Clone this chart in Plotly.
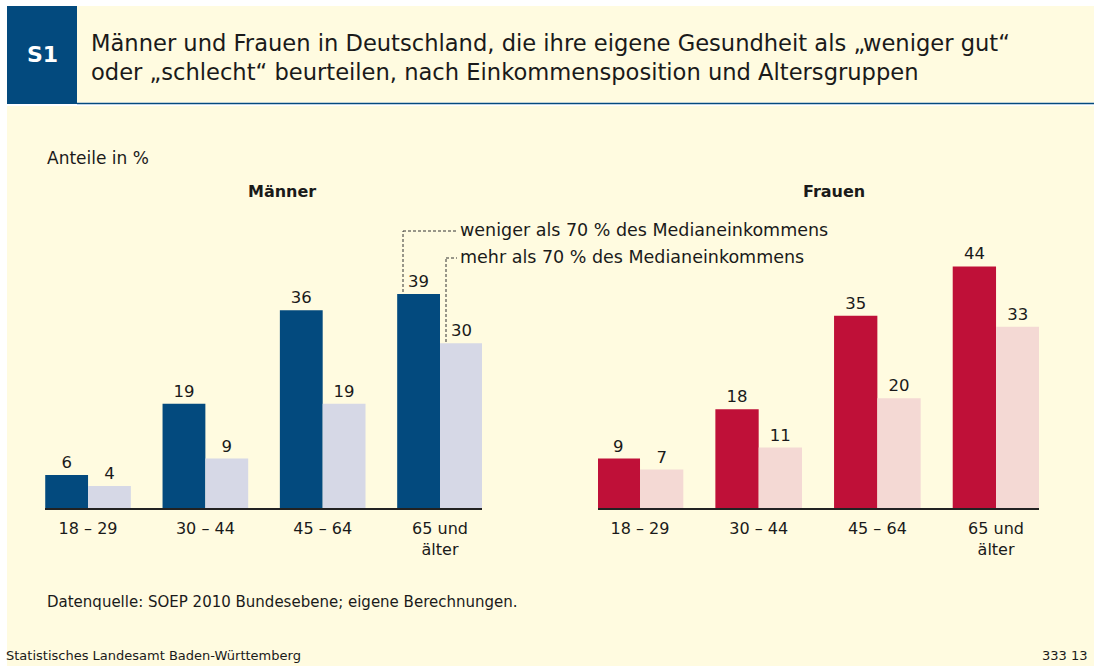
import plotly.graph_objects as go

# ---- data ----
age_groups = ["18 – 29", "30 – 44", "45 – 64", "65 und<br>älter"]
men_low = [6, 19, 36, 39]      # weniger als 70 % des Medianeinkommens
men_high = [4, 9, 19, 30]      # mehr als 70 % des Medianeinkommens
women_low = [9, 18, 35, 44]
women_high = [7, 11, 20, 33]

title_text = ("Männer und Frauen in Deutschland, die ihre eigene Gesundheit als „weniger gut“<br>"
              "oder „schlecht“ beurteilen, nach Einkommensposition und Altersgruppen")
legend_low = "weniger als 70 % des Medianeinkommens"
legend_high = "mehr als 70 % des Medianeinkommens"

# ---- style ----
W, H = 1094, 666
FONT = "DejaVu Sans"
BLUE = "#034a7e"
LAV = "#d6d8e6"
RED = "#bf1038"
PINK = "#f4d9d4"
BEIGE = "#fffbe0"
HEAD_BLUE = "#034a7e"
TXT = "#1a1a1a"


def px(x):
    return x / W


def py(y):
    return 1 - y / H


idx = list(range(len(age_groups)))
fig = go.Figure()


def add_pair(low, high, c_low, c_high, xa, ya):
    for vals, col in ((low, c_low), (high, c_high)):
        fig.add_trace(go.Bar(
            x=idx, y=vals, marker=dict(color=col, line=dict(width=0)),
            text=[str(v) for v in vals], textposition="outside",
            textfont=dict(family=FONT, size=16.5, color=TXT),
            cliponaxis=False, xaxis=xa, yaxis=ya, showlegend=False,
            hoverinfo="skip", offsetgroup=col,
        ))


add_pair(men_low, men_high, BLUE, LAV, "x", "y")
add_pair(women_low, women_high, RED, PINK, "x2", "y2")

base_y = 508
top_y = base_y - 5.49 * 50
ydom = [py(base_y), py(top_y)]

axis_common = dict(
    showline=True, linecolor="#222222", linewidth=1.5, ticks="",
    showgrid=False, zeroline=False, tickvals=idx, ticktext=age_groups,
    tickfont=dict(family=FONT, size=16, color=TXT), ticklabelstandoff=5,
    fixedrange=True,
)
yax_common = dict(visible=False, range=[0, 50], domain=ydom, fixedrange=True)

fig.update_layout(
    width=W, height=H, margin=dict(l=0, r=0, t=0, b=0),
    paper_bgcolor="white", plot_bgcolor="rgba(0,0,0,0)",
    barmode="group", bargap=0.27, bargroupgap=0,
    font=dict(family=FONT, color=TXT),
    xaxis=dict(domain=[px(45), px(482)], range=[-0.367, 3.358], anchor="y", **axis_common),
    yaxis=dict(anchor="x", **yax_common),
    xaxis2=dict(domain=[px(598), px(1039)], range=[-0.354, 3.362], anchor="y2", **axis_common),
    yaxis2=dict(anchor="x2", **yax_common),
)

DASH = dict(color="#333333", width=1, dash="3px,2px")
shapes = [
    # body background
    dict(type="rect", xref="paper", yref="paper", x0=px(7), x1=1, y0=0, y1=py(106),
         fillcolor=BEIGE, line=dict(width=0), layer="below"),
    # header background
    dict(type="rect", xref="paper", yref="paper", x0=px(77), x1=1, y0=py(102.5), y1=py(6),
         fillcolor=BEIGE, line=dict(width=0), layer="below"),
    # header blue box
    dict(type="rect", xref="paper", yref="paper", x0=px(7), x1=px(77), y0=py(104), y1=py(6),
         fillcolor=HEAD_BLUE, line=dict(width=0), layer="below"),
    # header underline
    dict(type="line", xref="paper", yref="paper", x0=px(77), x1=1, y0=py(103.5), y1=py(103.5),
         line=dict(color=HEAD_BLUE, width=1.5), layer="below"),
    # legend leader lines
    dict(type="line", xref="paper", yref="paper", x0=px(403), x1=px(403), y0=py(292), y1=py(231),
         line=DASH),
    dict(type="line", xref="paper", yref="paper", x0=px(403), x1=px(457), y0=py(231), y1=py(231),
         line=DASH),
    dict(type="line", xref="paper", yref="paper", x0=px(446), x1=px(446), y0=py(342), y1=py(258),
         line=DASH),
    dict(type="line", xref="paper", yref="paper", x0=px(446), x1=px(457), y0=py(258), y1=py(258),
         line=DASH),
]


def ann(text, x, y, size, xanchor="left", bold=False, color=TXT, yanchor="middle", align="left"):
    return dict(text=f"<b>{text}</b>" if bold else text, x=px(x), y=py(y),
                xref="paper", yref="paper", showarrow=False, xanchor=xanchor,
                yanchor=yanchor, align=align,
                font=dict(family=FONT, size=size, color=color))


annotations = [
    ann("S1", 42, 55, 22, xanchor="center", bold=True, color="white"),
    ann(title_text, 89, 57, 22.6),
    ann("Anteile in %", 45, 158, 17),
    ann("Männer", 282, 192, 16, xanchor="center", bold=True),
    ann("Frauen", 834, 192, 16, xanchor="center", bold=True),
    ann(legend_low, 458, 230, 17.5),
    ann(legend_high, 458, 257, 17.5),
    ann("Datenquelle: SOEP 2010 Bundesebene; eigene Berechnungen.", 45, 602, 15),
    ann("Statistisches Landesamt Baden-Württemberg", 4, 655, 13),
    ann("333 13", 1090, 655, 13, xanchor="right"),
]

fig.update_layout(shapes=shapes, annotations=annotations)
fig.write_html(
    "out.html", config={"displayModeBar": False},
    post_script="document.body.style.margin='0';document.body.style.overflow='hidden';",
)
